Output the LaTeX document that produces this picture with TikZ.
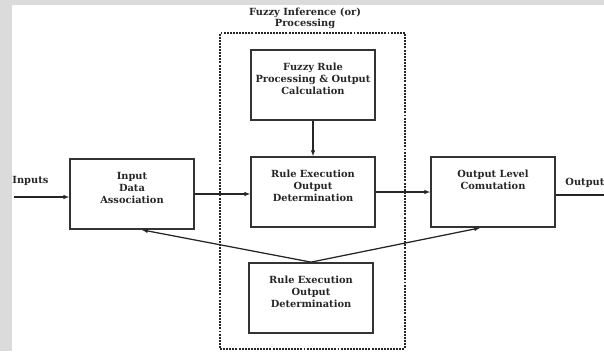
\documentclass[tikz,border=0pt]{standalone}
\usepackage{fontspec}
\setmainfont{DejaVu Serif}
\usetikzlibrary{arrows,calc,positioning}

\tikzset{
    procbox/.style={draw=black!80, line width=2.5pt, inner sep=0pt,
        minimum width=6.2cm, minimum height=3.5cm},
    flow/.style={-latex, line width=1.8pt, black!85},
    groupframe/.style={draw=black!85, line width=1.7pt, dash pattern=on 2.8pt off 1.6pt,
        minimum width=9.25cm, minimum height=15.8cm},
    lbl/.style={font=\fontsize{14}{15.5}\selectfont\bfseries, align=center, text=black!85}
}
\newcommand{\boxtext}[1]{\parbox[c][3.5cm][t]{6.1cm}{\centering\fontsize{14}{17}\selectfont\bfseries\color{black!85}\vspace*{0.66cm}#1}}

\begin{document}
\begin{tikzpicture}[x=0.05cm, y=-0.05cm]
    \useasboundingbox (0, 0) rectangle (604, 351);
    \fill[black!14] (0, 0) rectangle (12, 351);
    \fill[black!14] (0, 0) rectangle (604, 5);

    % inference frame
    \node[groupframe] (infer) at (312.5, 191) {};
    \node[lbl] (title) at (305, 18.5) {Fuzzy Inference (or)\\Processing};

    \node[procbox] (assoc) at (132, 194) {\boxtext{Input\\Data\\Association}};
    \node[procbox] (rulecalc) at (313, 85) {\boxtext{Fuzzy Rule\\Processing \& Output\\Calculation}};
    \node[procbox] (exec) at (313, 192) {\boxtext{Rule Execution\\Output\\Determination}};
    \node[procbox] (lower) at (311, 298) {\boxtext{Rule Execution\\Output\\Determination}};
    \node[procbox] (level) at (493, 192) {\boxtext{Output Level\\Comutation}};

    % in and out
    \coordinate (src) at (14, 197);
    \coordinate (sink) at (612, 195);
    \node[lbl, anchor=west] (inlbl) at (10, 181) {Inputs};
    \node[lbl, anchor=west] (outlbl) at (563, 183) {Output};

    \draw[flow] (src) -- (src -| assoc.west);
    \draw[flow] (assoc.east) -- (assoc.east -| exec.west);
    \draw[flow] (exec.east) -- (level.west);
    \draw[flow] (sink -| level.east) -- (sink);
    \draw[flow] (rulecalc.south) -- (exec.north);
    \draw[flow] (lower.north) -- ([xshift=0.5cm]assoc.south);
    \draw[flow] (lower.north) -- ([xshift=-0.65cm]level.south);
\end{tikzpicture}
\end{document}
